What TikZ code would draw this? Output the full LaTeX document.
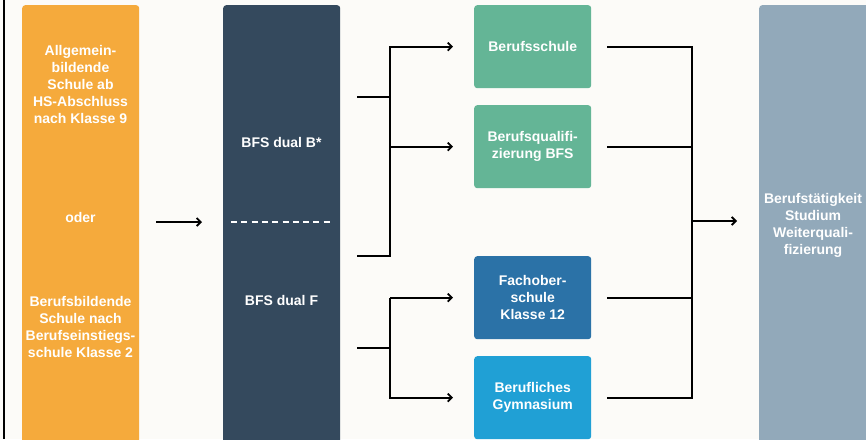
\documentclass[tikz,border=0pt]{standalone}
\usepackage{fontspec}
\setmainfont{Liberation Sans}
\usetikzlibrary{arrows.meta,positioning}

\definecolor{hintergrund}{HTML}{FCFBF8}
\definecolor{orangebox}{HTML}{F5AA3C}
\definecolor{dunkelbox}{HTML}{34495D}
\definecolor{gruenbox}{HTML}{64B596}
\definecolor{fachbox}{HTML}{2B72A7}
\definecolor{gymbox}{HTML}{20A0D5}
\definecolor{zielbox}{HTML}{92A9BA}

\tikzset{
  box/.style={rounded corners=3pt, minimum width=117pt, inner sep=0pt, anchor=north west},
  lbl/.style={text=white, font=\bfseries\fontsize{14}{17}\selectfont, align=center},
  conn/.style={line width=1.8pt},
  arr/.style={conn, -{Straight Barb[length=4pt,width=8pt]}}
}

\begin{document}
\begin{tikzpicture}[x=1pt,y=-1pt]
\useasboundingbox (0,0) rectangle (866,439);
\clip (0,0) rectangle (866,439);
\fill [hintergrund] (0,0) rectangle (866,439);
\draw [line width=1.2pt] (4,0) -- (4,439);

% Columns
\node [box, fill=orangebox, minimum height=440pt] (herkunft) at (22,5) {};
\node [box, fill=dunkelbox, minimum height=440pt] (dual) at (223,5) {};
\node [box, fill=zielbox, minimum height=440pt] (ziel) at (759,5) {};

% Schools in the middle
\node [box, lbl, fill=gruenbox, minimum height=83pt] (berufsschule) at (474,5) {Berufsschule};
\node [box, lbl, fill=gruenbox, minimum height=83pt] (qualifizierung) at (474,105) {Berufsqualifi-\\zierung BFS};
\node [box, lbl, fill=fachbox, minimum height=83pt] (fachober) at (474,256) {Fachober-\\schule\\Klasse 12};
\node [box, lbl, fill=gymbox, minimum height=83pt] (gymnasium) at (474,356) {Berufliches\\Gymnasium};

% Texts in the columns
\node [lbl] (allgemein) at (80.5,84) {Allgemein-\\bildende\\Schule ab\\HS-Abschluss\\nach Klasse 9};
\node [lbl] (oder) at (80.5,217) {oder};
\node [lbl] (berufsbildend) at (80.5,326.5) {Berufsbildende\\Schule nach\\Berufseinstiegs-\\schule Klasse 2};
\node [lbl] (dualB) at (281.5,142) {BFS dual B*};
\node [lbl] (dualF) at (281.5,300) {BFS dual F};
\node [lbl] (beruf) at (813,225) {Berufstätigkeit\\Studium\\Weiterquali-\\fizierung};

% Split line and entry arrow
\coordinate (mitte) at (0,222);
\draw [white, dash pattern=on 6pt off 4.3pt, line width=1.5pt] ([xshift=8pt]dual.west |- mitte) -- ([xshift=-8pt]dual.east |- mitte);
\draw [arr, shorten <=17pt, shorten >=21pt] (herkunft.east |- mitte) -- (dual.west |- mitte);

% Fork after BFS dual B
\coordinate (gabelB) at (390,97);
\coordinate (stubB) at (357,256);
\draw [conn] (gabelB -| stubB) -- (gabelB);
\draw [arr, shorten >=21pt] (stubB) -- (gabelB |- stubB) -- (gabelB |- berufsschule.west) -- (berufsschule.west);
\draw [arr, shorten >=21pt] (gabelB |- qualifizierung.west) -- (qualifizierung.west);

% Fork after BFS dual F
\coordinate (gabelF) at (390,348);
\draw [conn] (gabelF -| stubB) -- (gabelF);
\draw [arr, shorten >=21pt] (gabelF |- fachober.west) -- (fachober.west);
\draw [arr, shorten >=21pt] (gabelF |- fachober.west) -- (gabelF |- gymnasium.west) -- (gymnasium.west);

% Joining lines
\coordinate (sammel) at (692,221);
\draw [conn] ([xshift=16pt]berufsschule.east) -| (sammel) |- ([xshift=16pt]gymnasium.east);
\foreach \b in {qualifizierung,fachober}
\draw [conn] ([xshift=16pt]\b.east) -- (sammel |- \b.east);
\draw [arr, shorten >=22pt] (sammel) -- (ziel.west |- sammel);

\end{tikzpicture}
\end{document}
